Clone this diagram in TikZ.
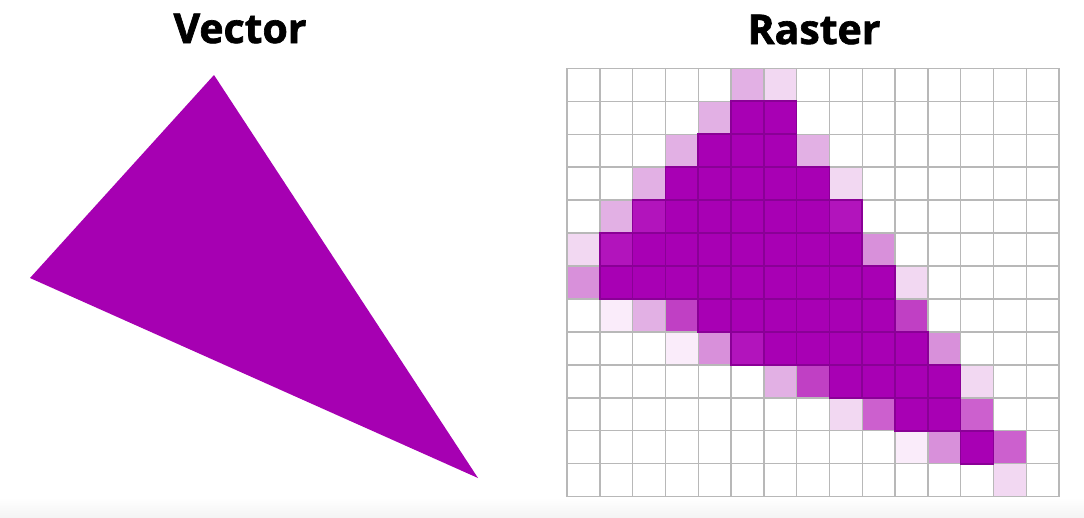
\documentclass[tikz,border=0pt]{standalone}
\usepackage{fontspec}
\setmainfont{Open Sans}
\newfontfamily\titlefont[BoldFeatures={FakeBold=1.6}]{Open Sans}
\definecolor{tri}{RGB}{166,0,178}
\definecolor{cD}{RGB}{168,0,180}
\definecolor{cDb}{RGB}{138,0,150}
\definecolor{cD2}{RGB}{178,20,188}
\definecolor{cM}{RGB}{192,64,196}
\definecolor{cM2}{RGB}{204,96,206}
\definecolor{cL}{RGB}{216,144,218}
\definecolor{cl}{RGB}{226,176,228}
\definecolor{cv}{RGB}{242,216,242}
\definecolor{cf}{RGB}{250,236,250}
\definecolor{gridgray}{RGB}{184,184,184}
\definecolor{bandgray}{RGB}{244,244,244}
\tikzset{
  title/.style={font=\titlefont\fontsize{41}{41}\selectfont\bfseries, anchor=base, inner sep=0pt},
  gridline/.style={draw=gridgray, line width=1.4pt},
  darkedge/.style={draw=cDb, line width=1.7pt},
}
\begin{document}
\begin{tikzpicture}[x=1pt,y=-1pt]
\useasboundingbox (0,0) rectangle (1084,517);
\fill[white] (0,0) rectangle (1084,517);
\shade[top color=white, bottom color=bandgray] (0,498) rectangle (1084,517);
% titles
\node[title] (tvec) at (240,43) {Vector};
\node[title] (tras) at (814,44) {Raster};
% vector triangle
\coordinate (va) at (214,75);
\coordinate (vb) at (30,278);
\coordinate (vc) at (478,478);
\fill[tri] (va) -- (vb) -- (vc) -- cycle;
% raster grid
\def\xo{567}\def\yo{68.3}\def\cw{32.8}\def\ch{32.95}
% colored cells
\foreach \c/\r/\col in {
  5/0/cl, 6/0/cv,
  4/1/cl, 5/1/cD, 6/1/cD,
  3/2/cl, 4/2/cD, 5/2/cD, 6/2/cD, 7/2/cl,
  2/3/cl, 3/3/cD, 4/3/cD, 5/3/cD, 6/3/cD, 7/3/cD, 8/3/cv,
  1/4/cl, 2/4/cD2, 3/4/cD, 4/4/cD, 5/4/cD, 6/4/cD, 7/4/cD, 8/4/cD2,
  0/5/cv, 1/5/cD2, 2/5/cD, 3/5/cD, 4/5/cD, 5/5/cD, 6/5/cD, 7/5/cD, 8/5/cD, 9/5/cL,
  0/6/cL, 1/6/cD, 2/6/cD, 3/6/cD, 4/6/cD, 5/6/cD, 6/6/cD, 7/6/cD, 8/6/cD, 9/6/cD, 10/6/cv,
  1/7/cf, 2/7/cl, 3/7/cM, 4/7/cD, 5/7/cD, 6/7/cD, 7/7/cD, 8/7/cD, 9/7/cD, 10/7/cM,
  3/8/cf, 4/8/cL, 5/8/cD2, 6/8/cD, 7/8/cD, 8/8/cD, 9/8/cD, 10/8/cD, 11/8/cL,
  6/9/cl, 7/9/cM, 8/9/cD, 9/9/cD, 10/9/cD, 11/9/cD, 12/9/cv,
  8/10/cv, 9/10/cM2, 10/10/cD, 11/10/cD, 12/10/cM2,
  10/11/cf, 11/11/cL, 12/11/cD, 13/11/cM2,
  13/12/cv}
  \fill[\col] ({\xo+\c*\cw},{\yo+\r*\ch}) rectangle ++(\cw,\ch);
% gray grid lines
\foreach \i in {0,...,15}
  \draw[gridline] ({\xo+\i*\cw},\yo) -- ({\xo+\i*\cw},{\yo+13*\ch});
\foreach \j in {0,...,13}
  \draw[gridline] (\xo,{\yo+\j*\ch}) -- ({\xo+15*\cw},{\yo+\j*\ch});
% dark borders on dark cells
\foreach \c/\r in {
  5/1, 6/1, 4/2, 5/2, 6/2, 3/3, 4/3, 5/3, 6/3, 7/3,
  2/4, 3/4, 4/4, 5/4, 6/4, 7/4, 8/4,
  1/5, 2/5, 3/5, 4/5, 5/5, 6/5, 7/5, 8/5,
  1/6, 2/6, 3/6, 4/6, 5/6, 6/6, 7/6, 8/6, 9/6,
  4/7, 5/7, 6/7, 7/7, 8/7, 9/7,
  5/8, 6/8, 7/8, 8/8, 9/8, 10/8,
  8/9, 9/9, 10/9, 11/9,
  10/10, 11/10, 12/11}
  \draw[darkedge] ({\xo+\c*\cw},{\yo+\r*\ch}) rectangle ++(\cw,\ch);
\end{tikzpicture}
\end{document}
